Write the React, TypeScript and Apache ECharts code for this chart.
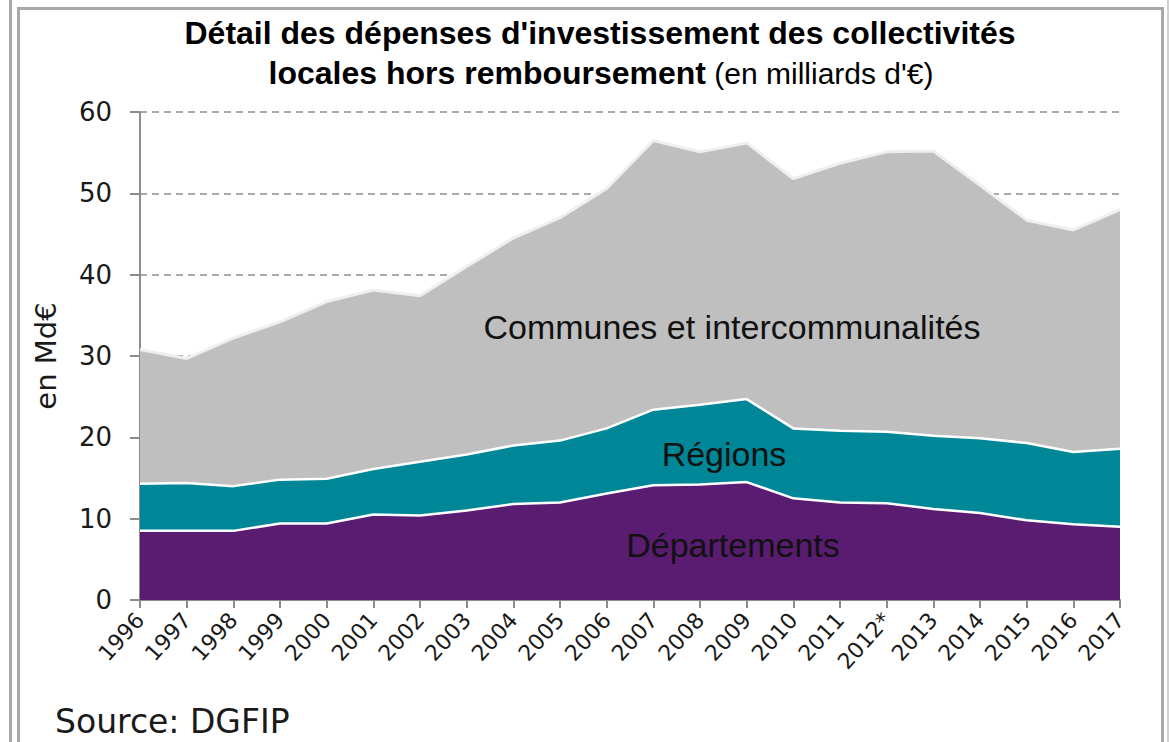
import React, { useEffect, useRef } from "react";
import * as echarts from "echarts";

const years = ["1996","1997","1998","1999","2000","2001","2002","2003","2004","2005","2006","2007","2008","2009","2010","2011","2012*","2013","2014","2015","2016","2017"];
const departements = [8.5, 8.5, 8.5, 9.4, 9.4, 10.5, 10.4, 11.0, 11.8, 12.0, 13.1, 14.1, 14.2, 14.5, 12.5, 12.0, 11.9, 11.2, 10.7, 9.8, 9.3, 9.0];
const regions = [5.8, 5.9, 5.5, 5.4, 5.5, 5.6, 6.6, 6.9, 7.2, 7.6, 8.0, 9.3, 9.8, 10.2, 8.6, 8.8, 8.8, 9.0, 9.2, 9.5, 8.9, 9.6];
const communes = [16.5, 15.3, 18.2, 19.4, 21.8, 22.0, 20.4, 23.1, 25.5, 27.4, 29.5, 33.1, 31.1, 31.5, 30.7, 32.9, 34.4, 35.0, 31.1, 27.4, 27.3, 29.4];
const yTicks = { min: 0, max: 60, interval: 10 };

const W = 1169;
const H = 742;
const frameColor = "#a8a8a8";

export default function App() {
  const ref = useRef<HTMLDivElement>(null);
  useEffect(() => {
    document.body.style.margin = "0";
    const chart = echarts.init(ref.current!, null, { renderer: "svg" });
    const sans = "'Liberation Sans', Arial, sans-serif";
    const verd = "'DejaVu Sans', Verdana, sans-serif";
    chart.setOption({
      animation: false,
      backgroundColor: "#ffffff",
      grid: { left: 140, right: 49, top: 112, bottom: 142, containLabel: false },
      xAxis: {
        type: "category",
        data: years,
        boundaryGap: false,
        axisLine: { lineStyle: { color: "#8c8c8c", width: 2 } },
        axisTick: { show: true, length: 8, alignWithLabel: true, lineStyle: { color: "#8c8c8c", width: 2 } },
        axisLabel: { rotate: 48, margin: 16, fontFamily: verd, fontSize: 22, color: "#1a1a1a", interval: 0 },
        splitLine: { show: false },
      },
      yAxis: {
        type: "value",
        min: yTicks.min,
        max: yTicks.max,
        interval: yTicks.interval,
        name: "en Md€",
        nameLocation: "middle",
        nameGap: 94,
        nameRotate: 90,
        nameTextStyle: { fontFamily: verd, fontSize: 29, color: "#1a1a1a", verticalAlign: "middle" },
        axisLine: { show: true, lineStyle: { color: "#8c8c8c", width: 2 } },
        axisTick: { show: true, length: 10, lineStyle: { color: "#8c8c8c", width: 2 } },
        axisLabel: { fontFamily: verd, fontSize: 26, color: "#1a1a1a", margin: 28 },
        splitLine: { show: true, lineStyle: { color: "#8f8f8f", type: [7, 5], width: 1.5 } },
      },
      series: [
        {
          name: "Départements",
          type: "line",
          stack: "total",
          data: departements,
          symbol: "none",
          lineStyle: { color: "#ffffff", width: 2.5 },
          areaStyle: { color: "#5a1c70", opacity: 1 },
          z: 3,
        },
        {
          name: "Régions",
          type: "line",
          stack: "total",
          data: regions,
          symbol: "none",
          lineStyle: { color: "#ffffff", width: 2.5 },
          areaStyle: { color: "#008797", opacity: 1 },
          z: 2,
        },
        {
          name: "Communes et intercommunalités",
          type: "line",
          stack: "total",
          data: communes,
          symbol: "none",
          lineStyle: { color: "#efefef", width: 3 },
          areaStyle: { color: "#bfbfbf", opacity: 1 },
          z: 1,
        },
      ],
      graphic: [
        { type: "rect", shape: { x: 9, y: 0, width: 3, height: H }, style: { fill: frameColor }, silent: true },
        { type: "rect", shape: { x: 17, y: 7, width: 3, height: H - 7 }, style: { fill: frameColor }, silent: true },
        { type: "rect", shape: { x: 17, y: 7, width: 1147, height: 3 }, style: { fill: frameColor }, silent: true },
        { type: "rect", shape: { x: 1161, y: 7, width: 3, height: H - 7 }, style: { fill: frameColor }, silent: true },
        { type: "rect", shape: { x: 1167, y: 0, width: 2, height: H }, style: { fill: "#d0d0d0" }, silent: true },
        {
          type: "text",
          x: 600,
          y: 33,
          style: {
            text: "Détail des dépenses d'investissement des collectivités",
            font: `bold 32px ${sans}`,
            fill: "#000000",
            align: "center",
            verticalAlign: "middle",
          },
        },
        {
          type: "text",
          x: 601,
          y: 73,
          style: {
            text: "{b|locales hors remboursement}{n| (en milliards d'€)}",
            align: "center",
            verticalAlign: "middle",
            rich: {
              b: { fontFamily: sans, fontWeight: "bold", fontSize: 32, fill: "#000000" },
              n: { fontFamily: sans, fontWeight: "normal", fontSize: 30, fill: "#000000" },
            },
          },
        },
        {
          type: "text",
          x: 732,
          y: 327,
          z: 10,
          style: { text: "Communes et intercommunalités", font: `34px ${sans}`, fill: "#111111", align: "center", verticalAlign: "middle" },
        },
        {
          type: "text",
          x: 724,
          y: 454,
          z: 10,
          style: { text: "Régions", font: `34px ${sans}`, fill: "#111111", align: "center", verticalAlign: "middle" },
        },
        {
          type: "text",
          x: 733,
          y: 545,
          z: 10,
          style: { text: "Départements", font: `34px ${sans}`, fill: "#111111", align: "center", verticalAlign: "middle" },
        },
        {
          type: "text",
          x: 55,
          y: 721,
          style: { text: "Source: DGFIP", font: `33px ${verd}`, fill: "#1a1a1a", align: "left", verticalAlign: "middle" },
        },
      ],
    });
    return () => chart.dispose();
  }, []);
  return <div ref={ref} style={{ width: W, height: H }} />;
}
